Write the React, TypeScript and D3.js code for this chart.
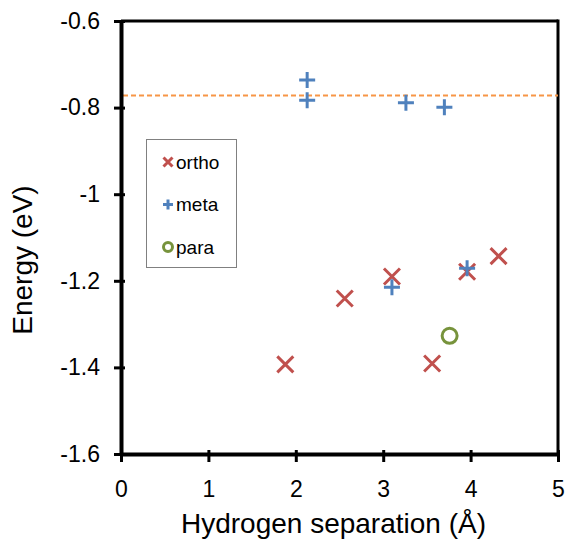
import React, { useEffect, useRef } from 'react';
import * as d3 from 'd3';

// Data
const orthoX = [1.88, 2.56, 3.10, 3.56, 3.96, 4.32];
const orthoY = [-1.393, -1.241, -1.19, -1.391, -1.179, -1.143];
const metaX = [2.13, 2.13, 3.26, 3.70, 3.10, 3.96];
const metaY = [-0.736, -0.783, -0.789, -0.799, -1.215, -1.171];
const paraX = [3.76];
const paraY = [-1.327];
const referenceEnergy = -0.772;
const xTicks = [0, 1, 2, 3, 4, 5];
const yTicks = [-0.6, -0.8, -1, -1.2, -1.4, -1.6];
const legendLabels = ['ortho', 'meta', 'para'];

const colors = { ortho: '#C0504D', meta: '#4F81BD', para: '#77933C', ref: '#F79646' };
const font = 'Liberation Sans, Arial, sans-serif';

const App = () => {
  const svgRef = useRef<SVGSVGElement>(null);

  useEffect(() => {
    d3.select(svgRef.current).selectAll('*').remove();

    const margin = { top: 21, right: 9, bottom: 86, left: 121 };
    const W = 567, H = 540;
    const width = W - margin.left - margin.right;
    const height = H - margin.top - margin.bottom;

    const svg = d3.select(svgRef.current)
      .attr('width', W)
      .attr('height', H)
      .append('g')
      .attr('transform', `translate(${margin.left},${margin.top})`);

    const x = d3.scaleLinear().domain([0, 5]).range([0, width]);
    const y = d3.scaleLinear().domain([-1.6, -0.6]).range([height, 0]);

    // Top / right frame
    svg.append('line')
      .attr('x1', 0).attr('x2', width).attr('y1', 0).attr('y2', 0)
      .attr('stroke', '#000').attr('stroke-width', 3);
    svg.append('line')
      .attr('x1', width).attr('x2', width).attr('y1', -1.5).attr('y2', height)
      .attr('stroke', '#000').attr('stroke-width', 3);

    // Reference dashed line
    svg.append('line')
      .attr('x1', 2).attr('x2', width)
      .attr('y1', y(referenceEnergy)).attr('y2', y(referenceEnergy))
      .attr('stroke', colors.ref).attr('stroke-width', 2)
      .attr('stroke-dasharray', '5,3');

    // X axis
    const xAxis = svg.append('g')
      .attr('transform', `translate(0,${height})`)
      .call(d3.axisBottom(x).tickValues(xTicks).tickFormat(d3.format('d')).tickSizeInner(8).tickSizeOuter(0).tickPadding(19));
    xAxis.select('.domain').attr('stroke-width', 4).attr('stroke', '#000');
    xAxis.selectAll('.tick line').attr('stroke-width', 3).attr('y1', -4);
    xAxis.selectAll('text').style('font-family', font).style('font-size', '23px').attr('fill', '#000');

    // Y axis
    const yAxis = svg.append('g')
      .call(d3.axisLeft(y).tickValues(yTicks).tickFormat(d => String(d)).tickSizeInner(7).tickSizeOuter(0).tickPadding(14));
    yAxis.select('.domain').attr('stroke-width', 4).attr('stroke', '#000');
    yAxis.selectAll('.tick line').attr('stroke-width', 3).attr('x1', 4);
    yAxis.selectAll('text').style('font-family', font).style('font-size', '23px').attr('fill', '#000');

    // Axis titles
    svg.append('text')
      .attr('x', width / 2 - 6)
      .attr('y', height + 79)
      .attr('text-anchor', 'middle')
      .style('font-family', font)
      .style('font-size', '28px')
      .text('Hydrogen separation (Å)');
    svg.append('text')
      .attr('transform', `translate(${-89},${260 - margin.top}) rotate(-90)`)
      .attr('text-anchor', 'middle')
      .style('font-family', font)
      .style('font-size', '28px')
      .text('Energy (eV)');

    const crossPath = (s: number) => `M${-s},${-s}L${s},${s}M${-s},${s}L${s},${-s}`;
    const plusPath = (s: number) => `M${-s},0L${s},0M0,${-s}L0,${s}`;

    // ortho
    svg.append('g').selectAll('path')
      .data(orthoX.map((v, i) => [v, orthoY[i]]))
      .enter().append('path')
      .attr('transform', d => `translate(${x(d[0])},${y(d[1])})`)
      .attr('d', crossPath(8))
      .attr('stroke', colors.ortho).attr('stroke-width', 3).attr('fill', 'none');

    // meta
    svg.append('g').selectAll('path')
      .data(metaX.map((v, i) => [v, metaY[i]]))
      .enter().append('path')
      .attr('transform', d => `translate(${x(d[0])},${y(d[1])})`)
      .attr('d', plusPath(8))
      .attr('stroke', colors.meta).attr('stroke-width', 3).attr('fill', 'none');

    // para
    svg.append('g').selectAll('circle')
      .data(paraX.map((v, i) => [v, paraY[i]]))
      .enter().append('circle')
      .attr('cx', d => x(d[0])).attr('cy', d => y(d[1]))
      .attr('r', 7.5)
      .attr('stroke', colors.para).attr('stroke-width', 3).attr('fill', 'none');

    // Legend
    const legend = svg.append('g').attr('transform', `translate(${146 - margin.left},${139 - margin.top})`);
    legend.append('rect')
      .attr('x', 0.5).attr('y', 0.5).attr('width', 90).attr('height', 128)
      .attr('fill', '#fff').attr('stroke', '#808080').attr('stroke-width', 1);
    const items = legend.selectAll('g.item')
      .data(legendLabels)
      .enter().append('g')
      .attr('transform', (d, i) => `translate(22,${23 + i * 42.5})`);
    items.each(function (d, i) {
      const g = d3.select(this);
      if (i === 0) {
        g.append('path').attr('d', crossPath(4.5)).attr('stroke', colors.ortho).attr('stroke-width', 3);
      } else if (i === 1) {
        g.append('path').attr('d', plusPath(5)).attr('stroke', colors.meta).attr('stroke-width', 3);
      } else {
        g.append('circle').attr('r', 4.5).attr('fill', 'none').attr('stroke', colors.para).attr('stroke-width', 3);
      }
      g.append('text')
        .attr('x', 8).attr('y', 6.5)
        .style('font-family', font)
        .style('font-size', '19px')
        .text(d);
    });
  }, []);

  return (
    <div style={{ position: 'absolute', left: 0, top: 0 }}>
      <svg ref={svgRef}></svg>
    </div>
  );
};

export default App;
